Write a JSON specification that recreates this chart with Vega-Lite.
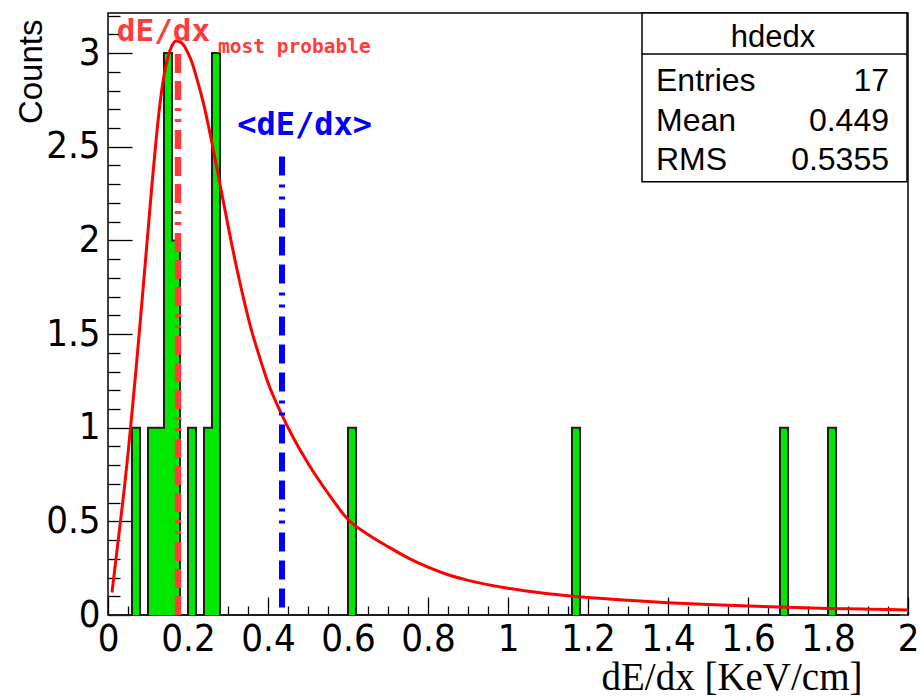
{
  "$schema": "https://vega.github.io/schema/vega-lite/v6.json",
  "width": 800,
  "height": 602,
  "autosize": {"type": "none"},
  "padding": {"left": 108, "top": 13, "right": 12, "bottom": 81},
  "background": "white",
  "data": {"values": [{}]},
  "config": {
    "view": {"stroke": "#000000", "strokeWidth": 1.5},
    "axis": {
      "domain": false,
      "grid": false,
      "tickColor": "#000000",
      "tickWidth": 1.3,
      "labelColor": "#000000",
      "titleColor": "#000000",
      "labelFont": "Liberation Sans Narrow, DejaVu Sans Condensed, Liberation Sans",
      "labelFontSize": 38,
      "labelOverlap": false,
      "labelFlush": false,
      "labelBound": false
    }
  },
  "datasets": {
    "bins": [
      {"lo": 0.00, "n": 0}, {"lo": 0.02, "n": 0}, {"lo": 0.04, "n": 0}, {"lo": 0.06, "n": 1}, {"lo": 0.08, "n": 0},
      {"lo": 0.10, "n": 1}, {"lo": 0.12, "n": 1}, {"lo": 0.14, "n": 3}, {"lo": 0.16, "n": 2}, {"lo": 0.18, "n": 0},
      {"lo": 0.20, "n": 1}, {"lo": 0.22, "n": 0}, {"lo": 0.24, "n": 1}, {"lo": 0.26, "n": 3}, {"lo": 0.28, "n": 0},
      {"lo": 0.30, "n": 0}, {"lo": 0.32, "n": 0}, {"lo": 0.34, "n": 0}, {"lo": 0.36, "n": 0}, {"lo": 0.38, "n": 0},
      {"lo": 0.40, "n": 0}, {"lo": 0.42, "n": 0}, {"lo": 0.44, "n": 0}, {"lo": 0.46, "n": 0}, {"lo": 0.48, "n": 0},
      {"lo": 0.50, "n": 0}, {"lo": 0.52, "n": 0}, {"lo": 0.54, "n": 0}, {"lo": 0.56, "n": 0}, {"lo": 0.58, "n": 0},
      {"lo": 0.60, "n": 1}, {"lo": 0.62, "n": 0}, {"lo": 0.64, "n": 0}, {"lo": 0.66, "n": 0}, {"lo": 0.68, "n": 0},
      {"lo": 0.70, "n": 0}, {"lo": 0.72, "n": 0}, {"lo": 0.74, "n": 0}, {"lo": 0.76, "n": 0}, {"lo": 0.78, "n": 0},
      {"lo": 0.80, "n": 0}, {"lo": 0.82, "n": 0}, {"lo": 0.84, "n": 0}, {"lo": 0.86, "n": 0}, {"lo": 0.88, "n": 0},
      {"lo": 0.90, "n": 0}, {"lo": 0.92, "n": 0}, {"lo": 0.94, "n": 0}, {"lo": 0.96, "n": 0}, {"lo": 0.98, "n": 0},
      {"lo": 1.00, "n": 0}, {"lo": 1.02, "n": 0}, {"lo": 1.04, "n": 0}, {"lo": 1.06, "n": 0}, {"lo": 1.08, "n": 0},
      {"lo": 1.10, "n": 0}, {"lo": 1.12, "n": 0}, {"lo": 1.14, "n": 0}, {"lo": 1.16, "n": 1}, {"lo": 1.18, "n": 0},
      {"lo": 1.20, "n": 0}, {"lo": 1.22, "n": 0}, {"lo": 1.24, "n": 0}, {"lo": 1.26, "n": 0}, {"lo": 1.28, "n": 0},
      {"lo": 1.30, "n": 0}, {"lo": 1.32, "n": 0}, {"lo": 1.34, "n": 0}, {"lo": 1.36, "n": 0}, {"lo": 1.38, "n": 0},
      {"lo": 1.40, "n": 0}, {"lo": 1.42, "n": 0}, {"lo": 1.44, "n": 0}, {"lo": 1.46, "n": 0}, {"lo": 1.48, "n": 0},
      {"lo": 1.50, "n": 0}, {"lo": 1.52, "n": 0}, {"lo": 1.54, "n": 0}, {"lo": 1.56, "n": 0}, {"lo": 1.58, "n": 0},
      {"lo": 1.60, "n": 0}, {"lo": 1.62, "n": 0}, {"lo": 1.64, "n": 0}, {"lo": 1.66, "n": 0}, {"lo": 1.68, "n": 1},
      {"lo": 1.70, "n": 0}, {"lo": 1.72, "n": 0}, {"lo": 1.74, "n": 0}, {"lo": 1.76, "n": 0}, {"lo": 1.78, "n": 0},
      {"lo": 1.80, "n": 1}, {"lo": 1.82, "n": 0}, {"lo": 1.84, "n": 0}, {"lo": 1.86, "n": 0}, {"lo": 1.88, "n": 0},
      {"lo": 1.90, "n": 0}, {"lo": 1.92, "n": 0}, {"lo": 1.94, "n": 0}, {"lo": 1.96, "n": 0}, {"lo": 1.98, "n": 0}
    ],
    "fit": [
      {"x": 0.01, "y": 0.12}, {"x": 0.02, "y": 0.30}, {"x": 0.03, "y": 0.48}, {"x": 0.04, "y": 0.66},
      {"x": 0.05, "y": 0.86}, {"x": 0.06, "y": 1.08}, {"x": 0.07, "y": 1.31}, {"x": 0.08, "y": 1.55},
      {"x": 0.09, "y": 1.80}, {"x": 0.10, "y": 2.05}, {"x": 0.11, "y": 2.30}, {"x": 0.12, "y": 2.53},
      {"x": 0.13, "y": 2.73}, {"x": 0.14, "y": 2.88}, {"x": 0.15, "y": 2.98}, {"x": 0.16, "y": 3.04},
      {"x": 0.17, "y": 3.065}, {"x": 0.18, "y": 3.06}, {"x": 0.19, "y": 3.04}, {"x": 0.20, "y": 3.00},
      {"x": 0.21, "y": 2.95}, {"x": 0.22, "y": 2.88}, {"x": 0.24, "y": 2.72}, {"x": 0.26, "y": 2.52},
      {"x": 0.28, "y": 2.30}, {"x": 0.30, "y": 2.08}, {"x": 0.32, "y": 1.87}, {"x": 0.34, "y": 1.68},
      {"x": 0.36, "y": 1.51}, {"x": 0.38, "y": 1.37}, {"x": 0.40, "y": 1.24}, {"x": 0.43, "y": 1.09},
      {"x": 0.46, "y": 0.96}, {"x": 0.50, "y": 0.81}, {"x": 0.55, "y": 0.65}, {"x": 0.60, "y": 0.51},
      {"x": 0.65, "y": 0.43}, {"x": 0.70, "y": 0.365}, {"x": 0.75, "y": 0.305}, {"x": 0.80, "y": 0.255},
      {"x": 0.85, "y": 0.215}, {"x": 0.90, "y": 0.185}, {"x": 1.00, "y": 0.143}, {"x": 1.10, "y": 0.114},
      {"x": 1.20, "y": 0.094}, {"x": 1.30, "y": 0.079}, {"x": 1.40, "y": 0.066}, {"x": 1.50, "y": 0.056},
      {"x": 1.60, "y": 0.048}, {"x": 1.70, "y": 0.041}, {"x": 1.80, "y": 0.035}, {"x": 1.90, "y": 0.031},
      {"x": 2.00, "y": 0.027}
    ]
  },
  "resolve": {"axis": {"x": "independent", "y": "independent"}},
  "layer": [
    {
      "data": {"name": "bins"},
      "mark": {
        "type": "area",
        "interpolate": "step-after",
        "color": "#00e800",
        "opacity": 1,
        "line": {"color": "#1e1e1e", "strokeWidth": 2}
      },
      "encoding": {
        "x": {
          "field": "lo", "type": "quantitative",
          "scale": {"domain": [0, 2], "nice": false, "zero": false},
          "axis": {
            "orient": "bottom",
            "values": [0, 0.2, 0.4, 0.6, 0.8, 1, 1.2, 1.4, 1.6, 1.8, 2],
            "format": "~g",
            "tickSize": -18,
            "labelPadding": 23,
            "title": "dE/dx [KeV/cm]",
            "titleFont": "Liberation Serif",
            "titleFontSize": 39,
            "titleFontWeight": "normal",
            "titleAnchor": "end",
            "titleAlign": "right",
            "titleBaseline": "alphabetic",
            "titleX": 754,
            "titleY": 74
          }
        },
        "y": {
          "field": "n", "type": "quantitative",
          "scale": {"domain": [0, 3.214], "nice": false},
          "axis": {
            "orient": "left",
            "values": [0, 0.5, 1, 1.5, 2, 2.5, 3],
            "format": "~g",
            "tickSize": -24,
            "labelPadding": 32,
            "title": "Counts",
            "titleFont": "Liberation Sans",
            "titleFontSize": 33,
            "titleFontWeight": "normal",
            "titleAngle": -90,
            "titleAnchor": "end",
            "titleAlign": "right",
            "titleBaseline": "alphabetic",
            "titleX": -67,
            "titleY": 6
          }
        }
      }
    },
    {
      "data": {"name": "fit"},
      "mark": {"type": "line", "color": "#ff0000", "strokeWidth": 3, "interpolate": "monotone"},
      "encoding": {
        "x": {
          "field": "x", "type": "quantitative",
          "scale": {"domain": [0, 2], "nice": false, "zero": false},
          "axis": {
            "orient": "bottom",
            "values": [0.05, 0.1, 0.15, 0.25, 0.3, 0.35, 0.45, 0.5, 0.55, 0.65, 0.7, 0.75, 0.85, 0.9, 0.95, 1.05, 1.1, 1.15, 1.25, 1.3, 1.35, 1.45, 1.5, 1.55, 1.65, 1.7, 1.75, 1.85, 1.9, 1.95],
            "labels": false,
            "tickSize": -9,
            "title": null
          }
        },
        "y": {
          "field": "y", "type": "quantitative",
          "scale": {"domain": [0, 3.214], "nice": false},
          "axis": {
            "orient": "left",
            "values": [0.1, 0.2, 0.3, 0.4, 0.6, 0.7, 0.8, 0.9, 1.1, 1.2, 1.3, 1.4, 1.6, 1.7, 1.8, 1.9, 2.1, 2.2, 2.3, 2.4, 2.6, 2.7, 2.8, 2.9, 3.1, 3.2],
            "labels": false,
            "tickSize": -12,
            "title": null
          }
        }
      }
    },
    {
      "mark": {"type": "rule", "color": "#ff3b3b", "strokeWidth": 6.5, "strokeDash": [19, 8, 19, 8, 19, 8, 3, 8, 3, 8]},
      "encoding": {
        "x": {"datum": 0.175, "type": "quantitative", "scale": {"domain": [0, 2], "nice": false, "zero": false}, "axis": null},
        "y": {"datum": 0, "type": "quantitative", "scale": {"domain": [0, 3.214], "nice": false}, "axis": null},
        "y2": {"datum": 3.0}
      }
    },
    {
      "mark": {"type": "rule", "color": "#0000ff", "strokeWidth": 6, "strokeDash": [19, 9, 19, 9, 19, 9, 3, 9, 3, 9]},
      "encoding": {
        "x": {"datum": 0.435, "type": "quantitative", "scale": {"domain": [0, 2], "nice": false, "zero": false}, "axis": null},
        "y": {"datum": 0.04, "type": "quantitative", "scale": {"domain": [0, 3.214], "nice": false}, "axis": null},
        "y2": {"datum": 2.456}
      }
    },
    {
      "mark": {"type": "text", "text": "dE/dx", "font": "DejaVu Sans Mono", "fontWeight": "bold", "fontSize": 31, "color": "#ff3b3b", "align": "left", "baseline": "alphabetic"},
      "encoding": {
        "x": {"datum": 0.022, "type": "quantitative", "scale": {"domain": [0, 2], "nice": false, "zero": false}, "axis": null},
        "y": {"datum": 3.066, "type": "quantitative", "scale": {"domain": [0, 3.214], "nice": false}, "axis": null}
      }
    },
    {
      "mark": {"type": "text", "text": "most probable", "font": "DejaVu Sans Mono", "fontWeight": "bold", "fontSize": 19.5, "color": "#ff3b3b", "align": "left", "baseline": "alphabetic"},
      "encoding": {
        "x": {"datum": 0.275, "type": "quantitative", "scale": {"domain": [0, 2], "nice": false, "zero": false}, "axis": null},
        "y": {"datum": 3.0, "type": "quantitative", "scale": {"domain": [0, 3.214], "nice": false}, "axis": null}
      }
    },
    {
      "mark": {"type": "text", "text": "<dE/dx>", "font": "DejaVu Sans Mono", "fontWeight": "bold", "fontSize": 32, "color": "#0000ff", "align": "left", "baseline": "alphabetic"},
      "encoding": {
        "x": {"datum": 0.323, "type": "quantitative", "scale": {"domain": [0, 2], "nice": false, "zero": false}, "axis": null},
        "y": {"datum": 2.563, "type": "quantitative", "scale": {"domain": [0, 3.214], "nice": false}, "axis": null}
      }
    },
    {
      "mark": {"type": "rect", "fill": "#ffffff", "stroke": "#000000", "strokeWidth": 1.5},
      "encoding": {
        "x": {"datum": 1.335, "type": "quantitative", "scale": {"domain": [0, 2], "nice": false, "zero": false}, "axis": null},
        "x2": {"datum": 1.9975},
        "y": {"datum": 2.313, "type": "quantitative", "scale": {"domain": [0, 3.214], "nice": false}, "axis": null},
        "y2": {"datum": 3.214}
      }
    },
    {
      "mark": {"type": "rule", "color": "#000000", "strokeWidth": 1.5},
      "encoding": {
        "x": {"datum": 1.335, "type": "quantitative", "scale": {"domain": [0, 2], "nice": false, "zero": false}, "axis": null},
        "x2": {"datum": 1.9975},
        "y": {"datum": 2.995, "type": "quantitative", "scale": {"domain": [0, 3.214], "nice": false}, "axis": null}
      }
    },
    {
      "mark": {"type": "text", "text": "hdedx", "font": "Liberation Sans", "fontSize": 31, "color": "#000000", "align": "center", "baseline": "alphabetic"},
      "encoding": {
        "x": {"datum": 1.6625, "type": "quantitative", "scale": {"domain": [0, 2], "nice": false, "zero": false}, "axis": null},
        "y": {"datum": 3.034, "type": "quantitative", "scale": {"domain": [0, 3.214], "nice": false}, "axis": null}
      }
    },
    {
      "data": {"values": [
        {"label": "Entries", "value": "17", "row": 2.799},
        {"label": "Mean", "value": "0.449", "row": 2.586},
        {"label": "RMS", "value": "0.5355", "row": 2.376}
      ]},
      "layer": [
        {
          "mark": {"type": "text", "font": "Liberation Sans", "fontSize": 32, "color": "#000000", "align": "left", "baseline": "alphabetic"},
          "encoding": {
            "x": {"datum": 1.37, "type": "quantitative", "scale": {"domain": [0, 2], "nice": false, "zero": false}, "axis": null},
            "y": {"field": "row", "type": "quantitative", "scale": {"domain": [0, 3.214], "nice": false}, "axis": null},
            "text": {"field": "label"}
          }
        },
        {
          "mark": {"type": "text", "font": "Liberation Sans", "fontSize": 32, "color": "#000000", "align": "right", "baseline": "alphabetic"},
          "encoding": {
            "x": {"datum": 1.9525, "type": "quantitative", "scale": {"domain": [0, 2], "nice": false, "zero": false}, "axis": null},
            "y": {"field": "row", "type": "quantitative", "scale": {"domain": [0, 3.214], "nice": false}, "axis": null},
            "text": {"field": "value"}
          }
        }
      ]
    }
  ]
}
